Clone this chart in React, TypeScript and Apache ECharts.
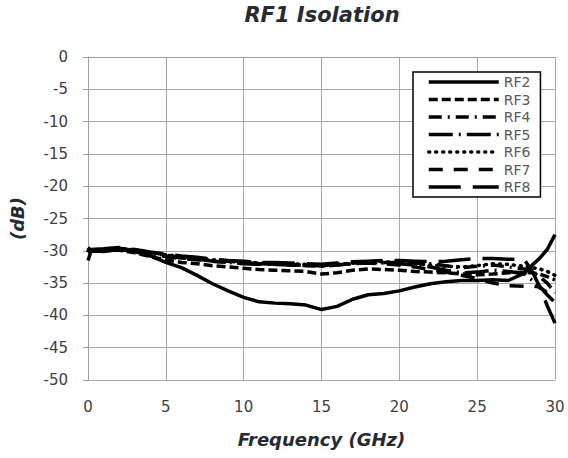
import React, { useEffect, useRef } from "react";
import * as echarts from "echarts";

const freq = [0, 0.2, 1, 2, 3, 4, 5, 6, 7, 8, 9, 10, 11, 12, 13, 14, 15, 16, 17, 18, 19, 20, 21, 22, 23, 24, 25, 26, 27, 28, 28.5, 29, 29.5, 30];

const rf2 = [-31.5, -30, -30.1, -29.8, -30.1, -30.8, -31.8, -32.6, -33.8, -35.1, -36.2, -37.2, -37.9, -38.1, -38.2, -38.4, -39.1, -38.6, -37.5, -36.8, -36.6, -36.2, -35.6, -35.1, -34.8, -34.6, -34.6, -34.5, -34.6, -33.5, -32.3, -31.2, -29.8, -27.5];
const rf3 = [-30, -30, -30, -29.9, -30.3, -30.9, -31.4, -31.8, -32.0, -32.3, -32.5, -32.7, -32.9, -33.0, -33.1, -33.2, -33.6, -33.4, -33.0, -32.8, -32.9, -33.0, -33.2, -33.3, -33.4, -33.6, -33.7, -33.6, -33.4, -33.3, -33.4, -33.6, -34.0, -34.5];
const rf4 = [-30.2, -29.9, -29.8, -29.6, -29.9, -30.3, -30.7, -31.0, -31.2, -31.4, -31.6, -31.8, -32.0, -32.0, -32.1, -32.3, -32.4, -32.2, -32.0, -31.9, -31.8, -31.8, -31.9, -32.0, -32.3, -32.6, -32.4, -32.2, -32.5, -32.8, -33.2, -34.0, -35.0, -36.5];
const rf5 = [-29.5, -30, -29.9, -29.7, -30.0, -30.4, -30.8, -31.1, -31.3, -31.6, -31.8, -32.0, -32.1, -32.1, -32.2, -32.2, -32.3, -32.1, -31.9, -31.8, -31.9, -32.0, -32.2, -32.5, -33.0, -33.4, -33.3, -33.0, -33.2, -33.5, -34.5, -35.5, -36.8, -38.0];
const rf6 = [-30, -30, -29.8, -29.6, -29.9, -30.3, -30.6, -30.9, -31.1, -31.4, -31.6, -31.7, -31.9, -32.0, -32.0, -32.1, -32.3, -32.1, -31.9, -31.7, -31.7, -31.8, -32.0, -32.2, -32.4, -32.5, -32.3, -32.0, -32.1, -32.4, -32.6, -32.8, -33.2, -33.8];
const rf7 = [-30.1, -30, -29.9, -29.7, -30.0, -30.5, -30.9, -31.2, -31.4, -31.6, -31.8, -31.9, -32.0, -32.1, -32.2, -32.2, -32.3, -32.2, -32.0, -31.9, -32.0, -32.2, -32.5, -32.9, -33.3, -33.8, -34.3, -35.0, -35.4, -35.5, -35.4, -35.6, -36.5, -37.5];
const rf8 = [-30, -29.8, -29.7, -29.5, -29.8, -30.2, -30.5, -30.8, -31.0, -31.3, -31.5, -31.6, -31.8, -31.8, -31.9, -32.0, -32.1, -31.9, -31.7, -31.6, -31.5, -31.5, -31.6, -31.7, -31.6, -31.4, -31.2, -31.2, -31.3, -31.3, -33.0, -35.5, -38.5, -41.2];

const seriesNames = ["RF2", "RF3", "RF4", "RF5", "RF6", "RF7", "RF8"];
const seriesValues = [rf2, rf3, rf4, rf5, rf6, rf7, rf8];
const dashes: (number[] | "solid")[] = ["solid", [9, 4], [13, 6, 2, 6], [24, 6, 2, 6], [1, 6], [14, 11], [32, 12]];

const FONT = "DejaVu Sans";

export default function App() {
  const ref = useRef<HTMLDivElement>(null);
  useEffect(() => {
    document.body.style.margin = "0";
    const chart = echarts.init(ref.current!, null, { renderer: "svg" });
    const series = seriesNames.map((name, i) => ({
      name,
      type: "line",
      data: freq.map((f, j) => [f, seriesValues[i][j]]),
      symbol: "none",
      showSymbol: false,
      lineStyle: {
        color: "#000",
        width: 3.5,
        type: dashes[i],
        cap: i === 4 ? "round" : "butt",
      },
      itemStyle: { color: "#000" },
      z: 10 - i,
    }));
    chart.setOption({
      animation: false,
      backgroundColor: "#fff",
      grid: { left: 88, right: 13, top: 57, bottom: 78, containLabel: false },
      graphic: [
        {
          type: "text",
          x: 322,
          y: 15,
          style: {
            text: "RF1 Isolation",
            align: "center",
            verticalAlign: "middle",
            textAlign: "center",
            textVerticalAlign: "middle",
            fontFamily: FONT,
            fontSize: 21,
            fontWeight: "bold",
            fontStyle: "italic",
            fill: "#262b33",
          },
        },
      ],
      legend: {
        orient: "vertical",
        left: 413,
        top: 72,
        padding: [3, 10, 3, 14],
        itemGap: 3.5,
        itemWidth: 70,
        itemHeight: 14,
        borderColor: "#000",
        borderWidth: 1.5,
        borderRadius: 0,
        backgroundColor: "#fff",
        itemStyle: { opacity: 0 },
        lineStyle: { width: 3.5, color: "#000" },
        textStyle: { color: "#595959", fontSize: 14, fontFamily: FONT },
        data: seriesNames,
      },
      xAxis: {
        type: "value",
        min: 0,
        max: 30,
        interval: 5,
        name: "Frequency (GHz)",
        nameLocation: "middle",
        nameGap: 50,
        nameTextStyle: { fontFamily: FONT, fontSize: 18, fontWeight: "bold", fontStyle: "italic", color: "#262b33" },
        axisLine: { show: true, lineStyle: { color: "#a0a0a0", width: 1 } },
        axisTick: { show: false },
        axisLabel: { fontFamily: FONT, fontSize: 15, color: "#404040", margin: 19 },
        splitLine: { show: true, lineStyle: { color: "#a8a8a8", width: 1 } },
      },
      yAxis: {
        type: "value",
        min: -50,
        max: 0,
        interval: 5,
        name: "(dB)",
        nameLocation: "middle",
        nameGap: 62,
        nameRotate: 90,
        nameTextStyle: { fontFamily: FONT, fontSize: 18, fontWeight: "bold", fontStyle: "italic", color: "#262b33" },
        axisLine: { show: true, lineStyle: { color: "#a0a0a0", width: 1 } },
        axisTick: { show: true, inside: false, length: 5, lineStyle: { color: "#a0a0a0" } },
        axisLabel: { fontFamily: FONT, fontSize: 15, color: "#404040", margin: 20 },
        splitLine: { show: true, lineStyle: { color: "#a8a8a8", width: 1 } },
      },
      series,
    });
    return () => chart.dispose();
  }, []);
  return <div ref={ref} style={{ width: 568, height: 458 }} />;
}
